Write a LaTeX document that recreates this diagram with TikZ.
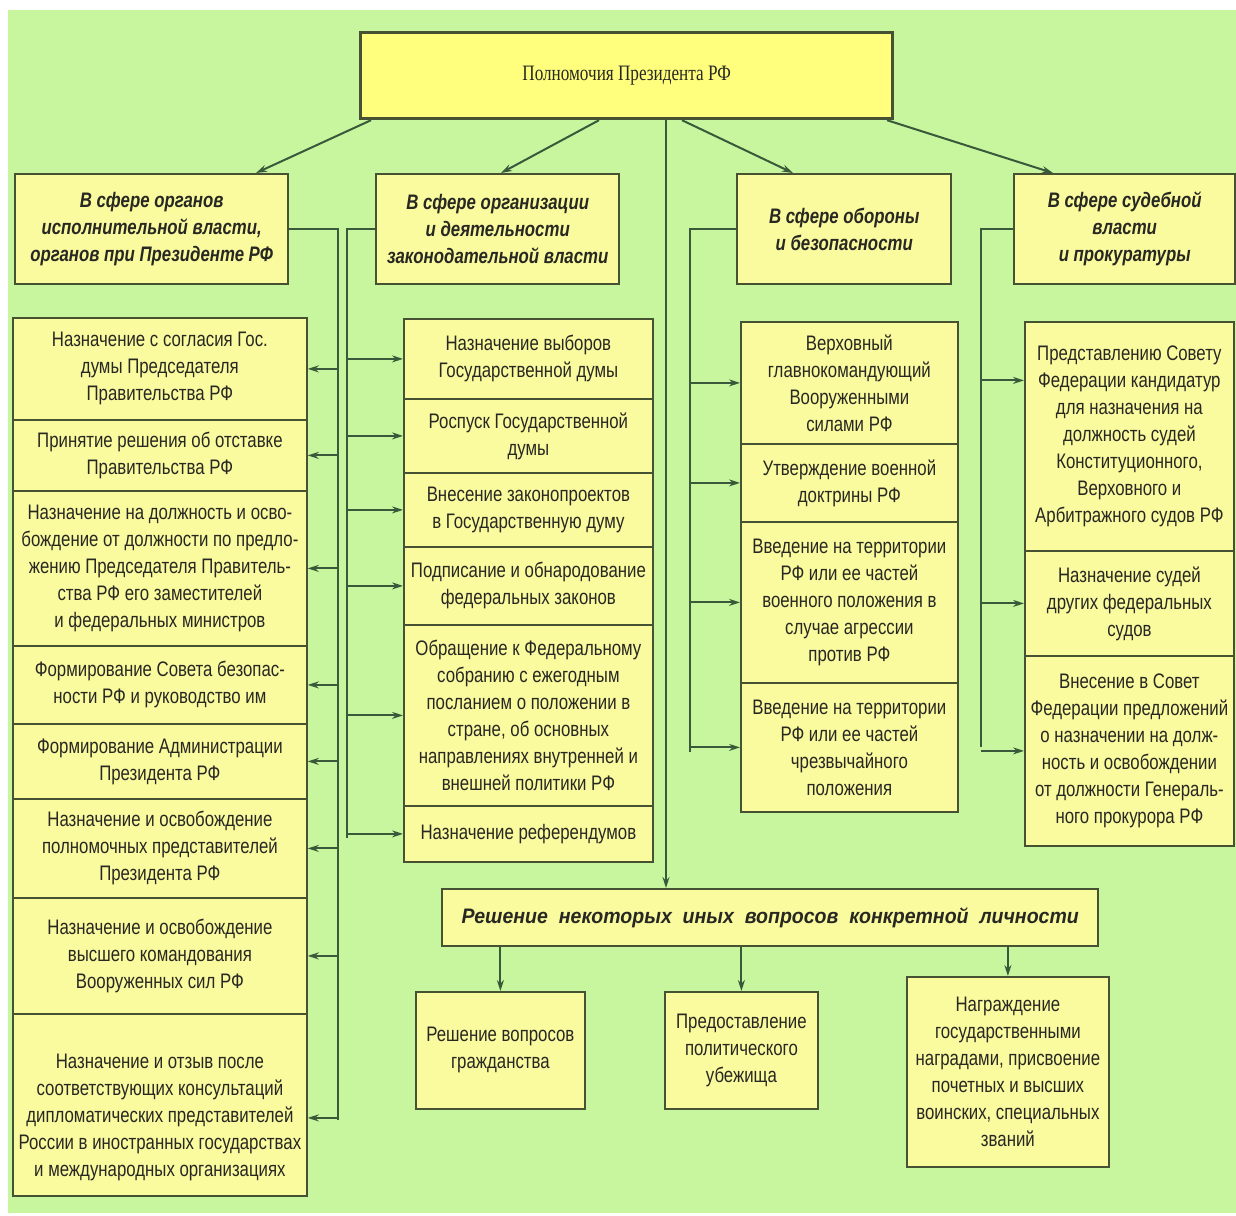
\documentclass[tikz,border=0pt]{standalone}
\usepackage{fontspec}
\setmainfont{Liberation Sans}[FakeStretch=0.8]
\newfontfamily\serifc{Liberation Serif}[FakeStretch=0.78]
\newfontfamily\widef{Liberation Sans}[FakeStretch=0.93]
\usetikzlibrary{arrows.meta,calc}
\definecolor{bggreen}{RGB}{200,246,158}
\definecolor{boxyellow}{RGB}{250,250,158}
\definecolor{topyellow}{RGB}{255,255,125}
\definecolor{edge}{RGB}{70,82,50}
\definecolor{wire}{RGB}{58,88,58}
\definecolor{ink}{RGB}{40,40,35}
\tikzset{
  box/.style={draw=edge, line width=1.8pt, fill=boxyellow, text=ink, align=center,
    anchor=north west, inner sep=2pt, font=\fontsize{21}{27}\selectfont},
  cat/.style={box, line width=2.4pt, font=\fontsize{21}{27}\selectfont\bfseries\itshape},
  wireline/.style={draw=wire, line width=2pt},
  arr/.style={wireline, -{Stealth[length=11pt,width=7pt]}},
}
\begin{document}
\begin{tikzpicture}[x=1pt,y=-1pt]
\useasboundingbox (0,0) rectangle (1236,1215);
\fill[white] (0,0) rectangle (1236,1215);
\fill[bggreen] (8,10) rectangle (1236,1213);

% top
\node[box, fill=topyellow, line width=3.2pt, minimum width=532pt, minimum height=86pt,
  font=\serifc\fontsize{22}{26}\selectfont] (top) at (359,31) {Полномочия Президента РФ};

% categories
\node[cat, minimum width=273pt, minimum height=110pt] (c1) at (14,173)
  {В сфере органов\\исполнительной власти,\\органов при Президенте РФ};
\node[cat, minimum width=243pt, minimum height=110pt] (c2) at (375,173)
  {В сфере организации\\и деятельности\\законодательной власти};
\node[cat, minimum width=214pt, minimum height=110pt] (c3) at (736,173)
  {В сфере обороны\\и безопасности};
\node[cat, minimum width=221pt, minimum height=110pt] (c4) at (1013,173)
  {В сфере судебной\\власти\\и прокуратуры};

% column 1
\node[box, minimum width=294pt, minimum height=102pt] (a1) at (12,317)
  {Назначение с согласия Гос.\\думы Председателя\\Правительства РФ};
\node[box, minimum width=294pt, minimum height=71pt] (a2) at (12,419)
  {Принятие решения об отставке\\Правительства РФ};
\node[box, minimum width=294pt, minimum height=155pt] (a3) at (12,490)
  {Назначение на должность и осво-\\бождение от должности по предло-\\жению Председателя Правитель-\\ства РФ его заместителей\\и федеральных министров};
\node[box, minimum width=294pt, minimum height=78pt] (a4) at (12,645)
  {Формирование Совета безопас-\\ности РФ и руководство им};
\node[box, minimum width=294pt, minimum height=75pt] (a5) at (12,723)
  {Формирование Администрации\\Президента РФ};
\node[box, minimum width=294pt, minimum height=99pt] (a6) at (12,798)
  {Назначение и освобождение\\полномочных представителей\\Президента РФ};
\node[box, minimum width=294pt, minimum height=116pt] (a7) at (12,897)
  {Назначение и освобождение\\высшего командования\\Вооруженных сил РФ};
\node[box, minimum width=294pt, minimum height=182pt] (a8) at (12,1013)
  {\rule{0pt}{40pt}Назначение и отзыв после\\соответствующих консультаций\\дипломатических представителей\\России в иностранных государствах\\и международных организациях};

% column 2
\node[box, minimum width=249pt, minimum height=80pt] (b1) at (403,318)
  {Назначение выборов\\Государственной думы};
\node[box, minimum width=249pt, minimum height=74pt] (b2) at (403,398)
  {Роспуск Государственной\\думы};
\node[box, minimum width=249pt, minimum height=74pt] (b3) at (403,472)
  {Внесение законопроектов\\в Государственную думу};
\node[box, minimum width=249pt, minimum height=78pt] (b4) at (403,546)
  {Подписание и обнародование\\федеральных законов};
\node[box, minimum width=249pt, minimum height=181pt] (b5) at (403,624)
  {Обращение к Федеральному\\собранию с ежегодным\\посланием о положении в\\стране, об основных\\направлениях внутренней и\\внешней политики РФ};
\node[box, minimum width=249pt, minimum height=56pt] (b6) at (403,805)
  {Назначение референдумов};

% column 3
\node[box, minimum width=217pt, minimum height=122pt] (d1) at (740,321)
  {Верховный\\главнокомандующий\\Вооруженными\\силами РФ};
\node[box, minimum width=217pt, minimum height=78pt] (d2) at (740,443)
  {Утверждение военной\\доктрины РФ};
\node[box, minimum width=217pt, minimum height=161pt] (d3) at (740,521)
  {Введение на территории\\РФ или ее частей\\военного положения в\\случае агрессии\\против РФ};
\node[box, minimum width=217pt, minimum height=129pt] (d4) at (740,682)
  {Введение на территории\\РФ или ее частей\\чрезвычайного\\положения};

% column 4
\node[box, minimum width=209pt, minimum height=229pt] (e1) at (1024,321)
  {Представлению Совету\\Федерации кандидатур\\для назначения на\\должность судей\\Конституционного,\\Верховного и\\Арбитражного судов РФ};
\node[box, minimum width=209pt, minimum height=105pt] (e2) at (1024,550)
  {Назначение судей\\других федеральных\\судов};
\node[box, minimum width=209pt, minimum height=190pt] (e3) at (1024,655)
  {Внесение в Совет\\Федерации предложений\\о назначении на долж-\\ность и освобождении\\от должности Генераль-\\ного прокурора РФ};

% bottom
\node[cat, minimum width=656pt, minimum height=57pt, font=\widef\fontsize{21}{26}\selectfont\bfseries\itshape] (dec) at (441,888)
  {Решение\ \ некоторых\ \ иных\ \ вопросов\ \ конкретной\ \ личности};
\node[box, minimum width=169pt, minimum height=117pt] (f1) at (415,991)
  {Решение вопросов\\гражданства};
\node[box, minimum width=153pt, minimum height=117pt] (f2) at (664,991)
  {Предоставление\\политического\\убежища};
\node[box, minimum width=202pt, minimum height=190pt] (f3) at (906,976)
  {Награждение\\государственными\\наградами, присвоение\\почетных и высших\\воинских, специальных\\званий};

% arrows from top
\draw[arr] ($(top.south west)+(12,0)$) -- ($(c1.north west)+(242,0)$);
\draw[arr] ($(top.south west)+(240,0)$) -- ($(c2.north west)+(126,0)$);
\draw[arr] ($(top.south west)+(323,0)$) -- ($(c3.north west)+(57,0)$);
\draw[arr] ($(top.south west)+(528,0)$) -- ($(c4.north west)+(40,0)$);
\draw[arr, line width=1.4pt] ($(top.south west)+(307,0)$) -- ($(dec.north west)+(225,0)$);

% trunks
\coordinate (k1) at (338,1120);
\coordinate (k2) at (347,838);
\coordinate (k3) at (690,752);
\coordinate (k4) at (981,747);
\draw[wireline] (c1.east) -| (k1);
\draw[wireline] (c2.west) -| (k2);
\draw[wireline] (c3.west) -| (k3);
\draw[wireline] (c4.west) -| (k4);

\foreach \n in {a1,a2,a3,a4,a5,a6,a7}
  \draw[arr] (\n.east -| k1) -- (\n.east);
\draw[arr] ([yshift=-13pt]a8.east -| k1) -- ([yshift=-13pt]a8.east);
\foreach \n in {b1,b2,b3,b4,b5,b6}
  \draw[arr] (\n.west -| k2) -- (\n.west);
\foreach \n in {d1,d2,d3,d4}
  \draw[arr] (\n.west -| k3) -- (\n.west);
\draw[arr] ([yshift=56pt]e1.west -| k4) -- ([yshift=56pt]e1.west);
\foreach \n in {e2,e3}
  \draw[arr] (\n.west -| k4) -- (\n.west);

% arrows from decision box
\draw[arr] (f1.north |- dec.south) -- (f1.north);
\draw[arr] (f2.north |- dec.south) -- (f2.north);
\draw[arr] (f3.north |- dec.south) -- (f3.north);
\end{tikzpicture}
\end{document}
